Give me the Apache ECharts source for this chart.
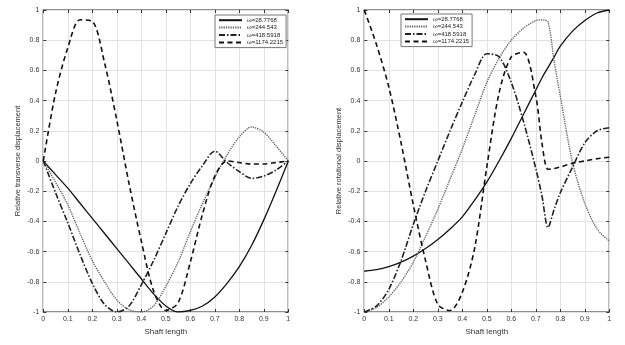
<!DOCTYPE html>
<html>
<head>
<meta charset="utf-8">
<script src="https://cdn.jsdelivr.net/npm/echarts@6/dist/echarts.min.js"></script>
<style>html,body{margin:0;padding:0;background:#fff;}#c{width:625px;height:345px;}</style>
</head>
<body>
<div id="c"></div>
<script>
const seriesNames = ['ω=28.7768', 'ω=244.543', 'ω=418.5918', 'ω=1174.2215'];

// Left chart: relative transverse displacement
const xsLeft = [0,0.05,0.1,0.15,0.2,0.25,0.3,0.35,0.4,0.45,0.5,0.55,0.6,0.65,0.7,0.75,0.8,0.85,0.9,0.95,1];
const leftW1 = [0,-0.09,-0.18,-0.28,-0.38,-0.48,-0.58,-0.68,-0.78,-0.88,-0.96,-1.0,-0.99,-0.96,-0.90,-0.81,-0.70,-0.56,-0.39,-0.20,0];
const leftW2 = [0,-0.14,-0.29,-0.48,-0.66,-0.80,-0.92,-0.985,-1.0,-0.96,-0.83,-0.67,-0.47,-0.28,-0.11,0.04,0.16,0.225,0.19,0.10,0];
const leftW3 = [0,-0.21,-0.41,-0.62,-0.81,-0.95,-1.0,-0.96,-0.82,-0.66,-0.48,-0.30,-0.15,-0.03,0.065,-0.01,-0.07,-0.115,-0.10,-0.06,0];
const leftW4 = [0,0.45,0.75,0.935,0.925,0.65,0.27,-0.15,-0.53,-0.86,-0.99,-0.94,-0.67,-0.35,-0.10,0.0,-0.01,-0.02,-0.02,-0.01,0];

// Right chart: relative rotational displacement
const xsRight = [0,0.05,0.1,0.15,0.2,0.25,0.3,0.35,0.4,0.45,0.5,0.55,0.6,0.65,0.7,0.725,0.75,0.775,0.8,0.85,0.9,0.95,1];
const rightW1 = [-0.73,-0.72,-0.70,-0.67,-0.63,-0.58,-0.52,-0.45,-0.37,-0.26,-0.14,0.0,0.15,0.31,0.47,0.55,0.62,0.69,0.76,0.86,0.93,0.98,1.0];
const rightW2 = [-1.0,-0.97,-0.90,-0.80,-0.67,-0.50,-0.32,-0.12,0.08,0.30,0.52,0.68,0.80,0.88,0.93,0.935,0.92,0.66,0.43,-0.01,-0.28,-0.45,-0.53];
const rightW3 = [-1.0,-0.96,-0.85,-0.66,-0.42,-0.20,0.0,0.2,0.39,0.57,0.71,0.69,0.52,0.26,-0.05,-0.23,-0.44,-0.32,-0.21,-0.04,0.12,0.20,0.22];
const rightW4 = [1.0,0.77,0.49,0.12,-0.29,-0.66,-0.95,-0.99,-0.87,-0.58,-0.04,0.45,0.69,0.72,0.43,0.12,-0.055,-0.05,-0.04,-0.015,0.0,0.015,0.025];

const leftSets = [leftW1, leftW2, leftW3, leftW4];
const rightSets = [rightW1, rightW2, rightW3, rightW4];

const styles = [
  {color:'#111', width:1.3, type:'solid'},
  {color:'#666', width:1.4, type:[1.3,1]},
  {color:'#222', width:1.6, type:[6,2,1.5,2]},
  {color:'#111', width:1.6, type:[5,3.5]}
];

function pairs(xs, ys){ return xs.map((x,i)=>[x, ys[i]]); }

const font = 'Liberation Sans, Arial, sans-serif';
const tick = {show:true, inside:true, length:3, lineStyle:{color:'#333'}};

function mainX(gi){
  return {
    type:'value', gridIndex:gi, min:0, max:1, interval:0.1, position:'bottom',
    name:'Shaft length', nameLocation:'middle', nameGap:15,
    nameTextStyle:{fontSize:8, color:'#333', fontFamily:font},
    axisLine:{show:false, onZero:false},
    axisTick:tick,
    axisLabel:{fontSize:7, color:'#333', margin:4, fontFamily:font},
    splitLine:{show:true, lineStyle:{color:'#e2e2e2', width:1}}
  };
}
function mainY(gi, title){
  return {
    type:'value', gridIndex:gi, min:-1, max:1, interval:0.2, position:'left',
    name:title, nameLocation:'middle', nameGap:21, nameRotate:90,
    nameTextStyle:{fontSize:7.5, color:'#333', fontFamily:font},
    axisLine:{show:false, onZero:false},
    axisTick:tick,
    axisLabel:{fontSize:7, color:'#333', margin:4, fontFamily:font},
    splitLine:{show:true, lineStyle:{color:'#e2e2e2', width:1}}
  };
}
function sideX(gi){
  return {type:'value', gridIndex:gi, position:'top', min:0, max:1, interval:0.1,
    axisLine:{show:false, onZero:false}, axisLabel:{show:false}, splitLine:{show:false},
    axisTick:tick};
}
function sideY(gi){
  return {type:'value', gridIndex:gi, position:'right', min:-1, max:1, interval:0.2,
    axisLine:{show:false, onZero:false}, axisLabel:{show:false}, splitLine:{show:false},
    axisTick:tick};
}

const series = [];
[leftSets, rightSets].forEach((sets, gi) => {
  const xs = gi === 0 ? xsLeft : xsRight;
  sets.forEach((ys, k) => {
    series.push({
      name: seriesNames[k], type:'line', xAxisIndex:gi, yAxisIndex:gi,
      data: pairs(xs, ys), smooth:0.3, showSymbol:false, symbol:'none',
      lineStyle: styles[k], itemStyle:{color:styles[k].color}, z: 3 + k,
      animation:false
    });
  });
});

function legend(left, top){
  return {
    data: seriesNames, orient:'vertical', left:left, top:top,
    itemWidth:23, itemHeight:8, itemGap:1,
    padding:[2,3,2,3], backgroundColor:'#fff', borderColor:'#777', borderWidth:1,
    itemStyle:{opacity:0, borderWidth:0},
    textStyle:{fontSize:6, color:'#222', fontFamily:font},
    selectedMode:false
  };
}

const chart = echarts.init(document.getElementById('c'), null, {renderer:'canvas'});
chart.setOption({
  animation:false,
  backgroundColor:'#fff',
  grid:[
    {left:43.3, top:10, width:245, height:302, show:true, borderColor:'#222', borderWidth:1.2, backgroundColor:'transparent'},
    {left:364.3, top:10, width:245, height:302, show:true, borderColor:'#222', borderWidth:1.2, backgroundColor:'transparent'}
  ],
  xAxis:[mainX(0), mainX(1), sideX(0), sideX(1)],
  yAxis:[mainY(0,'Relative transverse displacement'), mainY(1,'Relative rotational displacement'), sideY(0), sideY(1)],
  legend:[legend(215,15), legend(401,14)],
  series: series
});
</script>
</body>
</html>
